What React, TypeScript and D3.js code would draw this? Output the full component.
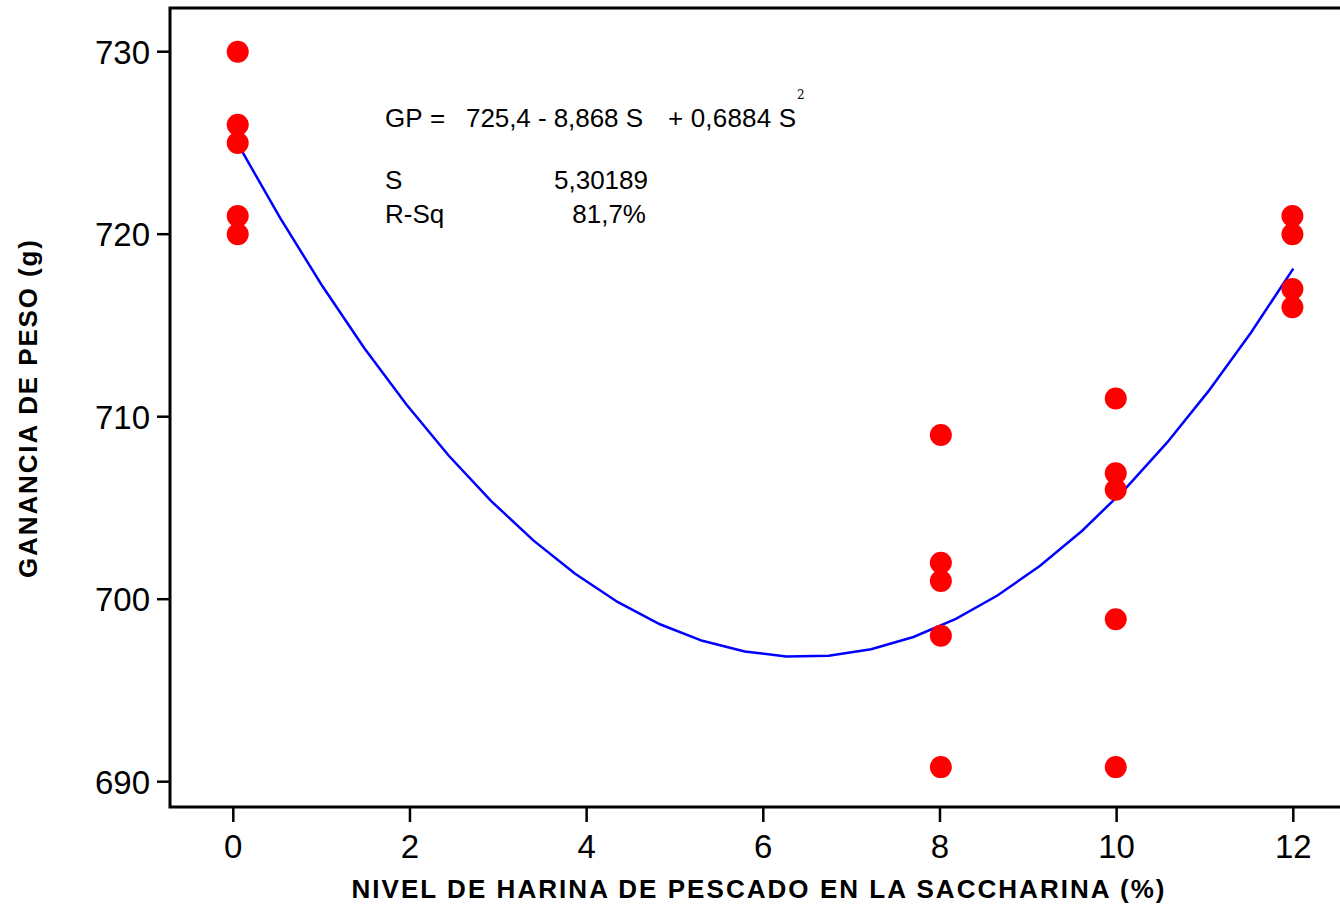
import React from 'react';
import * as d3 from 'd3';

// observed points (x = % fish meal, y = weight gain in g)
const group0 = [730, 726, 725, 721, 720];
const group8 = [709, 702, 701, 698, 690.8];
const group10 = [711, 706.9, 706, 698.9, 690.8];
const group12 = [721, 720, 717, 716];
const groupX = [0.05, 8.01, 9.99, 11.99];

const xTicks = [0, 2, 4, 6, 8, 10, 12];
const yTicks = [690, 700, 710, 720, 730];

// fitted quadratic from the chart annotation
const coefA = 725.4;
const coefB = -8.868;
const coefC = 0.6884;
const fitX = [0.05, 0.53, 1.01, 1.48, 1.96, 2.44, 2.92, 3.4, 3.87, 4.35, 4.83, 5.31, 5.79, 6.26, 6.74, 7.22, 7.7, 8.18, 8.65, 9.13, 9.61, 10.09, 10.57, 11.04, 11.52, 12.0];

const W = 1340;
const H = 907;

export default function App() {
  const x = d3.scaleLinear().domain([0, 12]).range([233.3, 1293.3]);
  const y = d3.scaleLinear().domain([690, 730]).range([781.7, 51.7]);

  const points: [number, number][] = [];
  [group0, group8, group10, group12].forEach((g, i) => g.forEach(v => points.push([groupX[i], v])));

  const fit = fitX.map(s => [s, coefA + coefB * s + coefC * s * s] as [number, number]);
  const line = d3.line<[number, number]>().x(d => x(d[0])).y(d => y(d[1]));

  const left = 170, top = 8, bottom = 807;
  const font = '"Liberation Sans", Arial, sans-serif';

  return (
    <svg width={W} height={H} style={{ position: 'absolute', left: 0, top: 0, background: '#fff' }}>
      <rect x={0} y={0} width={W} height={H} fill="#fff" />
      <path d={`M${W + 5},${top}H${left}V${bottom}H${W + 5}`} fill="none" stroke="#000" strokeWidth={3} />

      {yTicks.map(t => (
        <g key={t}>
          <line x1={157} x2={left} y1={y(t)} y2={y(t)} stroke="#000" strokeWidth={2.5} />
          <text x={150} y={y(t) + 12} textAnchor="end" fontFamily={font} fontSize={33}>{t}</text>
        </g>
      ))}
      {xTicks.map(t => (
        <g key={t}>
          <line x1={x(t)} x2={x(t)} y1={bottom} y2={822} stroke="#000" strokeWidth={2.5} />
          <text x={x(t)} y={858} textAnchor="middle" fontFamily={font} fontSize={33}>{t}</text>
        </g>
      ))}

      <path d={line(fit) || ''} fill="none" stroke="#0000ff" strokeWidth={2.5} />

      {points.map((p, i) => (
        <circle key={i} cx={x(p[0])} cy={y(p[1])} r={11} fill="#ff0000" />
      ))}

      <g fontFamily={font} fontSize={26} fill="#000">
        <text x={385} y={127}>GP</text>
        <text x={430} y={127}>=</text>
        <text x={466} y={127} textLength={177} lengthAdjust="spacing">725,4 - 8,868 S</text>
        <text x={668} y={127} textLength={128} lengthAdjust="spacing">+ 0,6884 S</text>
        <text x={797} y={99} fontFamily='"DejaVu Serif", serif' fontSize={12}>2</text>
        <text x={385} y={189}>S</text>
        <text x={648} y={189} textAnchor="end">5,30189</text>
        <text x={385} y={223}>R-Sq</text>
        <text x={646} y={223} textAnchor="end">81,7%</text>
      </g>

      <text x={758} y={898} textAnchor="middle" fontFamily={font} fontWeight="bold" fontSize={26}
        textLength={813} lengthAdjust="spacing">NIVEL DE HARINA DE PESCADO EN LA SACCHARINA (%)</text>
      <text transform="translate(37,409) rotate(-90)" textAnchor="middle" fontFamily={font} fontWeight="bold"
        fontSize={26} textLength={338} lengthAdjust="spacing">GANANCIA DE PESO (g)</text>
    </svg>
  );
}
